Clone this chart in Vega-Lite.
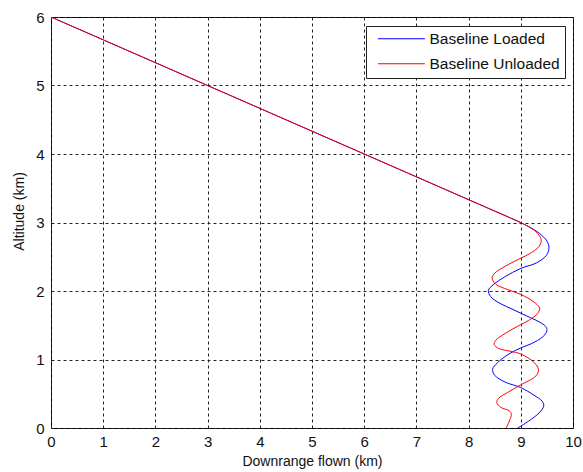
{
  "$schema": "https://vega.github.io/schema/vega-lite/v6.json",
  "width": 522,
  "height": 411,
  "autosize": {"type": "none"},
  "padding": {"left": 51, "top": 17, "right": 10, "bottom": 44},
  "background": "white",
  "config": {
    "font": "Liberation Sans",
    "view": {"stroke": "black", "strokeWidth": 1},
    "axis": {
      "grid": true,
      "gridColor": "#222",
      "gridDash": [3, 3],
      "gridOpacity": 1,
      "gridWidth": 1,
      "domain": false,
      "ticks": false,
      "labelFontSize": 15,
      "labelColor": "#111",
      "titleFontSize": 14,
      "titleFontWeight": "normal",
      "titleColor": "#111",
      "labelFont": "Liberation Sans",
      "titleFont": "Liberation Sans"
    },
    "legend": {
      "labelFont": "Liberation Sans"
    }
  },
  "data": {
    "values": [
      {"s": "Baseline Loaded", "i": 0, "x": 0, "y": 6},
      {"s": "Baseline Loaded", "i": 1, "x": 3, "y": 5},
      {"s": "Baseline Loaded", "i": 2, "x": 6, "y": 4},
      {"s": "Baseline Loaded", "i": 3, "x": 8.4, "y": 3.2},
      {"s": "Baseline Loaded", "i": 4, "x": 8.85, "y": 3.05},
      {"s": "Baseline Loaded", "i": 5, "x": 9.15, "y": 2.94},
      {"s": "Baseline Loaded", "i": 6, "x": 9.36, "y": 2.84},
      {"s": "Baseline Loaded", "i": 7, "x": 9.5, "y": 2.73},
      {"s": "Baseline Loaded", "i": 8, "x": 9.54, "y": 2.63},
      {"s": "Baseline Loaded", "i": 9, "x": 9.49, "y": 2.52},
      {"s": "Baseline Loaded", "i": 10, "x": 9.3, "y": 2.41},
      {"s": "Baseline Loaded", "i": 11, "x": 9.0, "y": 2.33},
      {"s": "Baseline Loaded", "i": 12, "x": 8.7, "y": 2.21},
      {"s": "Baseline Loaded", "i": 13, "x": 8.47, "y": 2.09},
      {"s": "Baseline Loaded", "i": 14, "x": 8.38, "y": 2.01},
      {"s": "Baseline Loaded", "i": 15, "x": 8.42, "y": 1.92},
      {"s": "Baseline Loaded", "i": 16, "x": 8.6, "y": 1.82},
      {"s": "Baseline Loaded", "i": 17, "x": 8.85, "y": 1.73},
      {"s": "Baseline Loaded", "i": 18, "x": 9.1, "y": 1.64},
      {"s": "Baseline Loaded", "i": 19, "x": 9.35, "y": 1.55},
      {"s": "Baseline Loaded", "i": 20, "x": 9.48, "y": 1.48},
      {"s": "Baseline Loaded", "i": 21, "x": 9.5, "y": 1.42},
      {"s": "Baseline Loaded", "i": 22, "x": 9.42, "y": 1.33},
      {"s": "Baseline Loaded", "i": 23, "x": 9.2, "y": 1.23},
      {"s": "Baseline Loaded", "i": 24, "x": 9.0, "y": 1.17},
      {"s": "Baseline Loaded", "i": 25, "x": 8.75, "y": 1.07},
      {"s": "Baseline Loaded", "i": 26, "x": 8.55, "y": 0.95},
      {"s": "Baseline Loaded", "i": 27, "x": 8.46, "y": 0.86},
      {"s": "Baseline Loaded", "i": 28, "x": 8.5, "y": 0.77},
      {"s": "Baseline Loaded", "i": 29, "x": 8.7, "y": 0.67},
      {"s": "Baseline Loaded", "i": 30, "x": 9.0, "y": 0.59},
      {"s": "Baseline Loaded", "i": 31, "x": 9.25, "y": 0.48},
      {"s": "Baseline Loaded", "i": 32, "x": 9.41, "y": 0.39},
      {"s": "Baseline Loaded", "i": 33, "x": 9.44, "y": 0.32},
      {"s": "Baseline Loaded", "i": 34, "x": 9.35, "y": 0.22},
      {"s": "Baseline Loaded", "i": 35, "x": 9.15, "y": 0.1},
      {"s": "Baseline Loaded", "i": 36, "x": 8.94, "y": 0.0},
      {"s": "Baseline Unloaded", "i": 0, "x": 0, "y": 6},
      {"s": "Baseline Unloaded", "i": 1, "x": 3, "y": 5},
      {"s": "Baseline Unloaded", "i": 2, "x": 6, "y": 4},
      {"s": "Baseline Unloaded", "i": 3, "x": 8.4, "y": 3.2},
      {"s": "Baseline Unloaded", "i": 4, "x": 8.85, "y": 3.05},
      {"s": "Baseline Unloaded", "i": 5, "x": 9.1, "y": 2.96},
      {"s": "Baseline Unloaded", "i": 6, "x": 9.3, "y": 2.86},
      {"s": "Baseline Unloaded", "i": 7, "x": 9.39, "y": 2.75},
      {"s": "Baseline Unloaded", "i": 8, "x": 9.35, "y": 2.65},
      {"s": "Baseline Unloaded", "i": 9, "x": 9.16, "y": 2.54},
      {"s": "Baseline Unloaded", "i": 10, "x": 9.0, "y": 2.48},
      {"s": "Baseline Unloaded", "i": 11, "x": 8.7, "y": 2.36},
      {"s": "Baseline Unloaded", "i": 12, "x": 8.5, "y": 2.26},
      {"s": "Baseline Unloaded", "i": 13, "x": 8.45, "y": 2.19},
      {"s": "Baseline Unloaded", "i": 14, "x": 8.52, "y": 2.1},
      {"s": "Baseline Unloaded", "i": 15, "x": 8.75, "y": 2.02},
      {"s": "Baseline Unloaded", "i": 16, "x": 9.0, "y": 1.95},
      {"s": "Baseline Unloaded", "i": 17, "x": 9.25, "y": 1.84},
      {"s": "Baseline Unloaded", "i": 18, "x": 9.36, "y": 1.75},
      {"s": "Baseline Unloaded", "i": 19, "x": 9.32, "y": 1.67},
      {"s": "Baseline Unloaded", "i": 20, "x": 9.15, "y": 1.57},
      {"s": "Baseline Unloaded", "i": 21, "x": 9.0, "y": 1.51},
      {"s": "Baseline Unloaded", "i": 22, "x": 8.7, "y": 1.38},
      {"s": "Baseline Unloaded", "i": 23, "x": 8.52, "y": 1.28},
      {"s": "Baseline Unloaded", "i": 24, "x": 8.49, "y": 1.22},
      {"s": "Baseline Unloaded", "i": 25, "x": 8.58, "y": 1.16},
      {"s": "Baseline Unloaded", "i": 26, "x": 8.8, "y": 1.12},
      {"s": "Baseline Unloaded", "i": 27, "x": 9.0, "y": 1.08},
      {"s": "Baseline Unloaded", "i": 28, "x": 9.25, "y": 0.96},
      {"s": "Baseline Unloaded", "i": 29, "x": 9.34, "y": 0.85},
      {"s": "Baseline Unloaded", "i": 30, "x": 9.29, "y": 0.76},
      {"s": "Baseline Unloaded", "i": 31, "x": 9.0, "y": 0.63},
      {"s": "Baseline Unloaded", "i": 32, "x": 8.75, "y": 0.52},
      {"s": "Baseline Unloaded", "i": 33, "x": 8.57, "y": 0.43},
      {"s": "Baseline Unloaded", "i": 34, "x": 8.54, "y": 0.37},
      {"s": "Baseline Unloaded", "i": 35, "x": 8.62, "y": 0.3},
      {"s": "Baseline Unloaded", "i": 36, "x": 8.78, "y": 0.25},
      {"s": "Baseline Unloaded", "i": 37, "x": 8.82, "y": 0.2},
      {"s": "Baseline Unloaded", "i": 38, "x": 8.79, "y": 0.12},
      {"s": "Baseline Unloaded", "i": 39, "x": 8.72, "y": 0.0}
    ]
  },
  "encoding": {
    "x": {
      "field": "x", "type": "quantitative",
      "scale": {"domain": [0, 10], "nice": false, "zero": false},
      "axis": {"title": "Downrange flown (km)", "values": [0,1,2,3,4,5,6,7,8,9,10], "format": "d", "labelPadding": 6, "titlePadding": 5, "labelFlush": false}
    },
    "y": {
      "field": "y", "type": "quantitative",
      "scale": {"domain": [0, 6], "nice": false, "zero": false},
      "axis": {"title": "Altitude (km)", "values": [0,1,2,3,4,5,6], "format": "d", "labelPadding": 7, "titlePadding": 9, "titleY": 194, "labelFlush": false}
    },
    "order": {"field": "i", "type": "quantitative"},
    "color": {
      "field": "s", "type": "nominal",
      "scale": {"domain": ["Baseline Loaded", "Baseline Unloaded"], "range": ["#0000ff", "#ff0000"]},
      "legend": {
        "title": null,
        "orient": "none",
        "legendX": 315,
        "legendY": 9,
        "symbolType": "M-1,0H7",
        "symbolSize": 138,
        "symbolStrokeWidth": 1,
        "symbolOffset": 5,
        "labelFontSize": 15.5,
        "labelColor": "#111",
        "labelOffset": 38,
        "strokeColor": "#222",
        "fillColor": "white",
        "padding": 5,
        "rowPadding": 8,
        "encode": {
          "symbols": {
            "update": {
              "stroke": {"scale": "color", "field": "value"},
              "fill": {"value": "transparent"}
            }
          }
        }
      }
    }
  },
  "layer": [
    {
      "transform": [{"filter": "datum.s === 'Baseline Loaded'"}],
      "mark": {"type": "line", "interpolate": "catmull-rom", "strokeWidth": 1, "clip": true}
    },
    {
      "transform": [{"filter": "datum.s === 'Baseline Unloaded'"}],
      "mark": {"type": "line", "interpolate": "catmull-rom", "strokeWidth": 1, "clip": true}
    }
  ]
}
